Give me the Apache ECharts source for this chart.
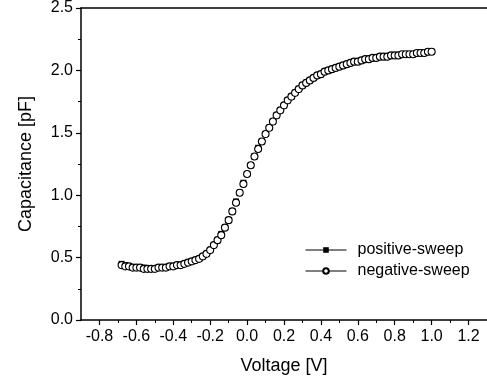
<!DOCTYPE html>
<html>
<head>
<meta charset="utf-8">
<script src="https://cdn.jsdelivr.net/npm/echarts@6/dist/echarts.min.js"></script>
<style>html,body{margin:0;padding:0;background:#fff;}#c{width:487px;height:380px;}</style>
</head>
<body>
<div id="c"></div>
<script>
const voltage = [-0.68,-0.66,-0.64,-0.62,-0.60,-0.58,-0.56,-0.54,-0.52,-0.50,-0.48,-0.46,-0.44,-0.42,-0.40,-0.38,-0.36,-0.34,-0.32,-0.30,-0.28,-0.26,-0.24,-0.22,-0.20,-0.18,-0.16,-0.14,-0.12,-0.10,-0.08,-0.06,-0.04,-0.02,0.00,0.02,0.04,0.06,0.08,0.10,0.12,0.14,0.16,0.18,0.20,0.22,0.24,0.26,0.28,0.30,0.32,0.34,0.36,0.38,0.40,0.42,0.44,0.46,0.48,0.50,0.52,0.54,0.56,0.58,0.60,0.62,0.64,0.66,0.68,0.70,0.72,0.74,0.76,0.78,0.80,0.82,0.84,0.86,0.88,0.90,0.92,0.94,0.96,0.98,1.00];
const negativeSweep = [0.44,0.43,0.43,0.42,0.42,0.42,0.41,0.41,0.41,0.41,0.42,0.42,0.42,0.43,0.43,0.44,0.44,0.45,0.46,0.47,0.48,0.49,0.51,0.53,0.56,0.60,0.64,0.68,0.74,0.80,0.87,0.94,1.02,1.09,1.17,1.24,1.31,1.37,1.43,1.49,1.54,1.59,1.64,1.68,1.72,1.76,1.79,1.82,1.85,1.88,1.90,1.92,1.94,1.96,1.97,1.99,2.00,2.01,2.02,2.03,2.04,2.05,2.06,2.07,2.07,2.08,2.09,2.09,2.10,2.10,2.11,2.11,2.11,2.12,2.12,2.12,2.13,2.13,2.13,2.13,2.14,2.14,2.14,2.15,2.15];
const positiveSweep = [0.45,0.44,0.43,0.42,0.42,0.42,0.42,0.41,0.41,0.41,0.42,0.42,0.42,0.43,0.43,0.44,0.44,0.45,0.46,0.47,0.48,0.49,0.51,0.53,0.56,0.60,0.64,0.69,0.74,0.80,0.87,0.95,1.02,1.10,1.17,1.24,1.31,1.38,1.43,1.49,1.54,1.59,1.64,1.68,1.72,1.76,1.79,1.82,1.85,1.88,1.90,1.92,1.94,1.96,1.97,1.99,2.00,2.01,2.02,2.03,2.04,2.05,2.06,2.07,2.07,2.08,2.09,2.09,2.10,2.10,2.11,2.11,2.11,2.12,2.12,2.12,2.13,2.13,2.13,2.13,2.14,2.14,2.14,2.15,2.15];
const seriesNames = ['positive-sweep','negative-sweep'];
const xMajorTicks = [-0.8,-0.6,-0.4,-0.2,0.0,0.2,0.4,0.6,0.8,1.0,1.2];
const xMinorTicks = [-0.7,-0.5,-0.3,-0.1,0.1,0.3,0.5,0.7,0.9,1.1];

const chart = echarts.init(document.getElementById('c'), null, {renderer:'canvas'});
const font = 'Liberation Sans, Arial, Helvetica, sans-serif';
const pair = (xs, ys) => xs.map((x,i)=>[x, ys[i]]);
chart.setOption({
  animation:false,
  backgroundColor:'#fff',
  grid:{left:81, right:-5.4, top:6, bottom:60},
  legend:{
    orient:'vertical', left:300, top:237, itemWidth:41, itemHeight:7, itemGap:5,
    data:seriesNames,
    lineStyle:{color:'#000', width:1, opacity:1, type:'solid'},
    textStyle:{fontFamily:font, fontSize:16, color:'#000', lineHeight:16, padding:[0,0,0,6]}
  },
  xAxis:[{
    type:'value', min:-0.9, max:1.3,
    name:'Voltage [V]', nameLocation:'middle', nameGap:37,
    nameTextStyle:{fontFamily:font, fontSize:18, color:'#000'},
    axisLine:{show:true, onZero:false, lineStyle:{color:'#000', width:1.5}},
    axisTick:{show:true, inside:false, length:5, customValues:xMajorTicks, lineStyle:{color:'#000', width:1.2}},
    splitLine:{show:false},
    axisLabel:{fontFamily:font, fontSize:16, color:'#000', margin:9, customValues:xMajorTicks,
      formatter:v=>v.toFixed(1)}
  },{
    type:'value', position:'top', min:-0.9, max:1.3,
    axisLine:{show:true, onZero:false, lineStyle:{color:'#000', width:1.5}},
    axisTick:{show:false}, axisLabel:{show:false}, splitLine:{show:false}
  },{
    type:'value', position:'bottom', min:-0.9, max:1.3,
    axisLine:{show:false, onZero:false},
    axisTick:{show:true, inside:false, length:3, customValues:xMinorTicks, lineStyle:{color:'#000', width:1}},
    axisLabel:{show:false, customValues:xMinorTicks}, splitLine:{show:false}
  }],
  yAxis:{
    type:'value', min:0, max:2.5, interval:0.5,
    name:'Capacitance [pF]', nameLocation:'middle', nameGap:46,
    nameTextStyle:{fontFamily:font, fontSize:18, color:'#000'},
    axisLine:{show:true, onZero:false, lineStyle:{color:'#000', width:1.5}},
    axisTick:{show:true, inside:false, length:5, lineStyle:{color:'#000', width:1.2}},
    minorTick:{show:true, splitNumber:2, length:3, lineStyle:{color:'#000', width:1}},
    splitLine:{show:false},
    axisLabel:{fontFamily:font, fontSize:16, color:'#000', margin:8, formatter:v=>v.toFixed(1)}
  },
  series:[{
    name:seriesNames[0], type:'line', data:pair(voltage, positiveSweep),
    symbol:'rect', symbolSize:6, showSymbol:true, showAllSymbol:true,
    lineStyle:{opacity:0, width:0},
    itemStyle:{color:'#000', borderColor:'#000', borderWidth:0}, z:2
  },{
    name:seriesNames[1], type:'line', data:pair(voltage, negativeSweep),
    symbol:'circle', symbolSize:7, showSymbol:true, showAllSymbol:true,
    lineStyle:{opacity:0, width:0},
    itemStyle:{color:'#fff', borderColor:'#000', borderWidth:1.1}, z:3
  }]
});
</script>
</body>
</html>
